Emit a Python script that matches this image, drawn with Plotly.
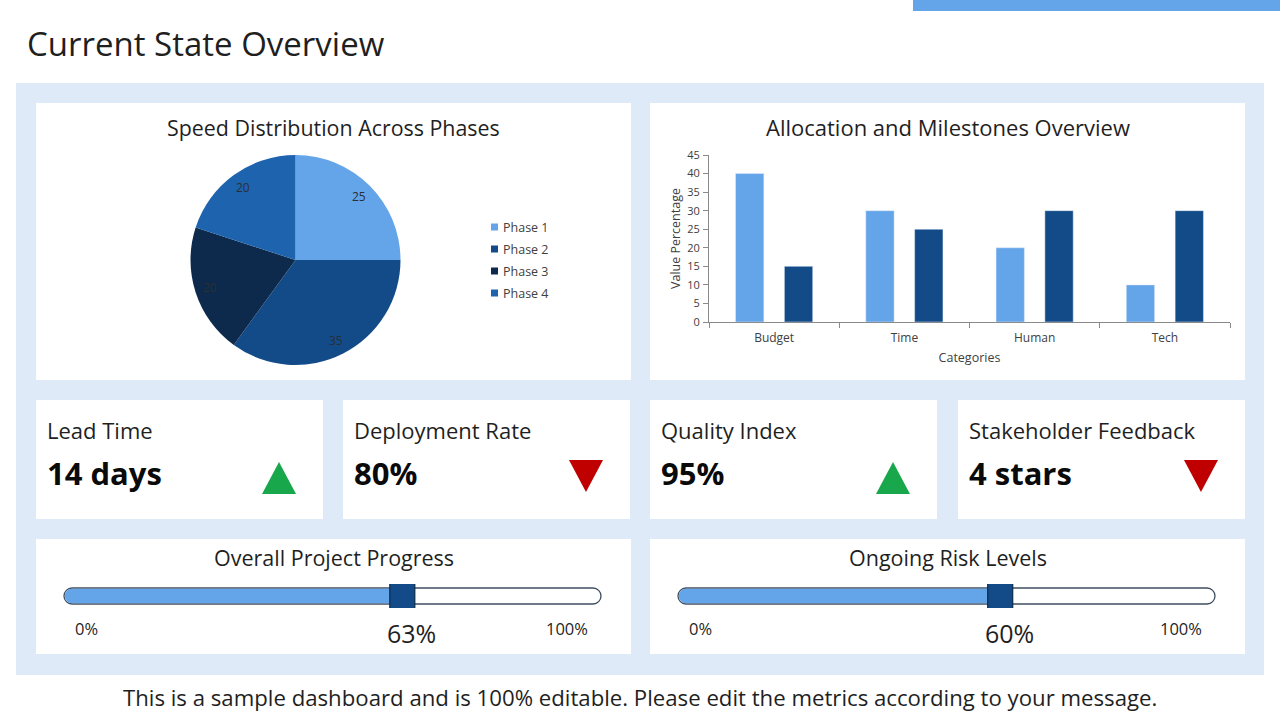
import math
import plotly.graph_objects as go

W, H = 1280, 720


def fx(px):
    return px / W


def fy(py):
    return 1 - py / H


# ---------------- data ----------------
page_title = "Current State Overview"
footer_text = ("This is a sample dashboard and is 100% editable. "
               "Please edit the metrics according to your message.")

pie_title = "Speed Distribution Across Phases"
phases = ["Phase 1", "Phase 2", "Phase 3", "Phase 4"]
phase_values = [25, 35, 20, 20]

bar_title = "Allocation and Milestones Overview"
categories = ["Budget", "Time", "Human", "Tech"]
series_a = [40, 30, 20, 10]
series_b = [15, 25, 30, 30]
y_ticks = list(range(0, 50, 5))

kpi_labels = ["Lead Time", "Deployment Rate", "Quality Index", "Stakeholder Feedback"]
kpi_values = ["14 days", "80%", "95%", "4 stars"]
kpi_trend = ["up", "down", "up", "down"]

progress_labels = ["Overall Project Progress", "Ongoing Risk Levels"]
progress_values = [63, 60]

# ---------------- styles ----------------
FONT = "Open Sans"
TXT = "#1f1f1f"
LIGHT = "#64A4E9"
DARK = "#134B88"
NAVY = "#0D2A4C"
MID = "#1E63AE"
PANEL = "#DFEAF8"
GREEN = "#19A74B"
RED = "#C00000"

pie_colors = [LIGHT, DARK, NAVY, MID]

panel_box = (16, 83, 1264, 675)
pie_card = (36, 103, 631, 380)
bar_card = (650, 103, 1245, 380)
kpi_x0 = [36, 343, 650, 958]
kpi_w = 287
kpi_y = (400, 519)
prog_cards = [(36, 539, 631, 654), (650, 539, 1245, 654)]
track_pad_l, track_pad_r = 28, 30
track_y = (588, 604)
pie_c, pie_r = (295.5, 260), 105

fig = go.Figure()

# ---------------- pie ----------------
fig.add_trace(go.Pie(
    labels=phases, values=phase_values, sort=False, direction="clockwise",
    rotation=0, marker=dict(colors=pie_colors, line=dict(width=0)),
    textinfo="none", automargin=False,
    domain=dict(x=[fx(pie_c[0] - pie_r), fx(pie_c[0] + pie_r)],
                y=[fy(pie_c[1] + pie_r), fy(pie_c[1] - pie_r)]),
    showlegend=False, hoverinfo="skip",
))

# ---------------- bars ----------------
fig.add_trace(go.Bar(x=categories, y=series_a, marker_color=LIGHT, name="Allocation",
                     showlegend=False, xaxis="x", yaxis="y"))
fig.add_trace(go.Bar(x=categories, y=series_b, marker_color=DARK, name="Milestones",
                     showlegend=False, xaxis="x", yaxis="y"))

shapes = []
annotations = []


def rect(box, color, layer="below"):
    x0, y0, x1, y1 = box
    shapes.append(dict(type="rect", xref="paper", yref="paper",
                       x0=fx(x0), x1=fx(x1), y0=fy(y1), y1=fy(y0),
                       fillcolor=color, line=dict(width=0), layer=layer))


def text(x, y, s, size, color=TXT, xanchor="center", bold=False, xref="paper"):
    annotations.append(dict(
        x=x, y=y, xref=xref, yref="paper", text=f"<b>{s}</b>" if bold else s,
        showarrow=False, xanchor=xanchor, yanchor="middle",
        font=dict(family=FONT, size=size, color=color)))


# page decoration
rect((913, 0, 1280, 11), LIGHT)
rect(panel_box, PANEL)
rect(pie_card, "white")
rect(bar_card, "white")
for x0 in kpi_x0:
    rect((x0, kpi_y[0], x0 + kpi_w, kpi_y[1]), "white")
for c in prog_cards:
    rect(c, "white")

text(fx(25), fy(43), page_title, 33, xanchor="left")
text(0.5, fy(697), footer_text, 22.2)
text(fx((pie_card[0] + pie_card[2]) / 2), fy(127), pie_title, 21.4)
text(fx((bar_card[0] + bar_card[2]) / 2), fy(127), bar_title, 22)

# pie value labels (placed at slice mid-angle)
total = sum(phase_values)
cum = 0
for v in phase_values:
    mid = (cum + v / 2) / total * 2 * math.pi
    cum += v
    lx = pie_c[0] + 0.857 * pie_r * math.sin(mid)
    ly = pie_c[1] - 0.857 * pie_r * math.cos(mid)
    text(fx(lx), fy(ly), str(v), 12, color="#2a2f36")

# manual legend
for i, (ph, col) in enumerate(zip(phases, pie_colors)):
    ly = 227 + 22 * i
    shapes.append(dict(type="rect", xref="paper", yref="paper",
                       x0=fx(491), x1=fx(498), y0=fy(ly + 3.5), y1=fy(ly - 3.5),
                       fillcolor=col, line=dict(width=0), layer="below"))
    text(fx(501), fy(ly), ph, 12.5, color="#404040", xanchor="left")

# KPI cards
for x0, lab, val, tr in zip(kpi_x0, kpi_labels, kpi_values, kpi_trend):
    text(fx(x0 + 9), fy(430), lab, 22, xanchor="left")
    text(fx(x0 + 9), fy(473), val, 31, xanchor="left", bold=True, color="#0a0a0a")
    cx = x0 + kpi_w - 44
    hw, hh = 17, 16
    if tr == "up":
        cy = 478
        pts = [(cx - hw, cy + hh), (cx + hw, cy + hh), (cx, cy - hh)]
        col = GREEN
    else:
        cy = 476
        pts = [(cx - hw, cy - hh), (cx + hw, cy - hh), (cx, cy + hh)]
        col = RED
    path = "M " + " L ".join(f"{fx(a):.5f},{fy(b):.5f}" for a, b in pts) + " Z"
    shapes.append(dict(type="path", xref="paper", yref="paper", path=path,
                       fillcolor=col, line=dict(width=0), layer="below"))


def rounded_path(x0, y0, x1, y1, left=True, right=True):
    r = (y1 - y0) / 2
    k = 0.5523 * r
    yc = (y0 + y1) / 2
    P = lambda a, b: f"{fx(a):.5f},{fy(b):.5f}"
    d = f"M {P(x0 + (r if left else 0), y0)} "
    if right:
        d += (f"L {P(x1 - r, y0)} C {P(x1 - r + k, y0)} {P(x1, yc - k)} {P(x1, yc)} "
              f"C {P(x1, yc + k)} {P(x1 - r + k, y1)} {P(x1 - r, y1)} ")
    else:
        d += f"L {P(x1, y0)} L {P(x1, y1)} "
    if left:
        d += (f"L {P(x0 + r, y1)} C {P(x0 + r - k, y1)} {P(x0, yc + k)} {P(x0, yc)} "
              f"C {P(x0, yc - k)} {P(x0 + r - k, y0)} {P(x0 + r, y0)} Z")
    else:
        d += f"L {P(x0, y1)} Z"
    return d


# progress cards
for i, (card, lab, val) in enumerate(zip(prog_cards, progress_labels, progress_values)):
    cx0, cy0, cx1, cy1 = card
    tx0, tx1 = cx0 + track_pad_l, cx1 - track_pad_r
    ty0, ty1 = track_y
    text(fx((cx0 + cx1) / 2), fy(557), lab, 21.5)
    shapes.append(dict(type="path", xref="paper", yref="paper",
                       path=rounded_path(tx0, ty0, tx1, ty1),
                       fillcolor="white", line=dict(color="#3E4D5E", width=1.3),
                       layer="below"))
    vx = tx0 + val / 100 * (tx1 - tx0)
    shapes.append(dict(type="path", xref="paper", yref="paper",
                       path=rounded_path(tx0 + 0.8, ty0 + 0.8, vx, ty1 - 0.8, right=False),
                       fillcolor=LIGHT, line=dict(width=0), layer="below"))
    ax = str(3 + i)
    text(fx(tx0 + 22), fy(628), "0%", 16.5)
    text(fx(tx1 - 34), fy(628), "100%", 16.5)
    annotations.append(dict(x=val, y=fy(633), xref=f"x{ax}", yref="paper",
                            text=f"{val}%", showarrow=False, xanchor="center",
                            yanchor="middle", xshift=9,
                            font=dict(family=FONT, size=25, color=TXT)))
    fig.add_trace(go.Scatter(
        x=[val], y=[0.5], mode="markers", xaxis=f"x{ax}", yaxis=f"y{ax}",
        marker=dict(symbol="square", size=25, color=DARK,
                    line=dict(color=NAVY, width=1.2)),
        showlegend=False, hoverinfo="skip"))
    fig.update_layout(**{
        f"xaxis{ax}": dict(domain=[fx(tx0), fx(tx1)], range=[0, 100], visible=False,
                           fixedrange=True, anchor=f"y{ax}", automargin=False),
        f"yaxis{ax}": dict(domain=[fy(ty1 + 4), fy(ty0 - 4)], range=[0, 1],
                           visible=False, fixedrange=True, anchor=f"x{ax}",
                           automargin=False),
    })

axis_font = dict(family=FONT, size=11, color="#404040")
fig.update_layout(
    width=W, height=H, autosize=False,
    margin=dict(l=0, r=0, t=0, b=0, pad=0, autoexpand=False),
    paper_bgcolor="white", plot_bgcolor="rgba(0,0,0,0)",
    hovermode=False, showlegend=False,
    barmode="group", bargap=0.25, bargroupgap=0.42,
    xaxis=dict(domain=[fx(709), fx(1230)], showline=True, linecolor="#8a8a8a",
               ticks="outside", tickson="boundaries", ticklen=5, tickcolor="#8a8a8a",
               ticklabelstandoff=5,
               tickfont=dict(family=FONT, size=12, color="#404040"),
               title=dict(text="Categories", font=dict(family=FONT, size=12.5, color="#404040"),
                          standoff=7),
               showgrid=False, zeroline=False, fixedrange=True, anchor="y",
               automargin=False),
    yaxis=dict(domain=[fy(322), fy(155)], range=[0, 45], tickvals=y_ticks,
               showline=True, linecolor="#8a8a8a", ticks="outside", ticklen=5,
               tickcolor="#8a8a8a", tickfont=axis_font, ticklabelstandoff=1,
               title=dict(text="Value Percentage",
                          font=dict(family=FONT, size=12.5, color="#404040"), standoff=3),
               showgrid=False, zeroline=False, fixedrange=True, anchor="x",
               automargin=False),
    shapes=shapes, annotations=annotations,
)

fig.write_html("out.html", config={"displayModeBar": False},
               post_script="document.body.style.margin='0';")
